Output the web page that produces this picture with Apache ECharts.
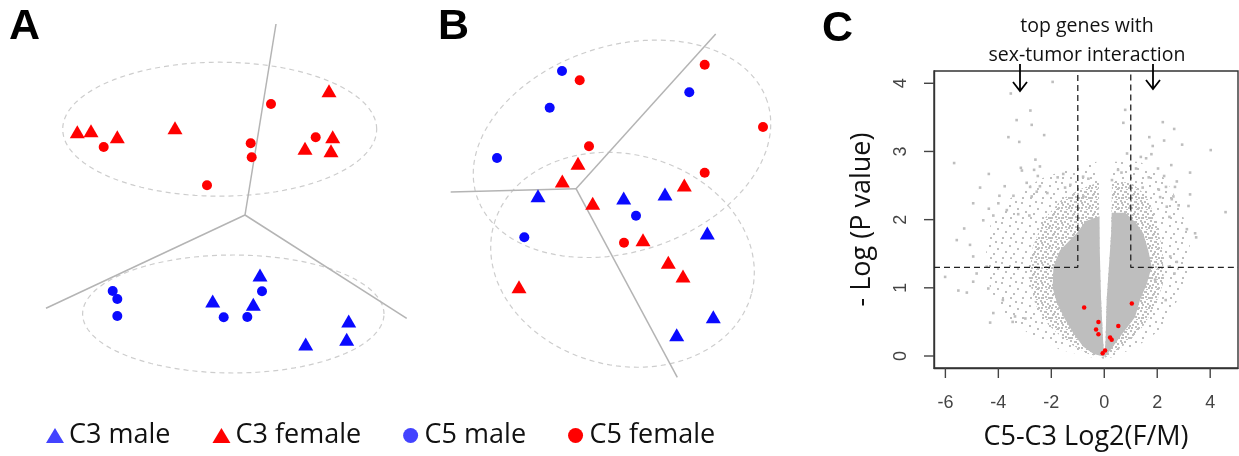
<!DOCTYPE html>
<html>
<head>
<meta charset="utf-8">
<title>C3 / C5 sex clustering and volcano plot</title>
<script src="https://cdn.jsdelivr.net/npm/echarts@6.0.0/dist/echarts.min.js"></script>
<style>
  html, body { margin: 0; padding: 0; background: #fff; }
  #main { width: 1239px; height: 456px; }
</style>
</head>
<body>
<div id="main"></div>
<script>
// ---- panel A (projection, arbitrary units) ----
var aC3Male   = [[26.00,10.50],[21.27,7.90],[25.33,7.57],[34.87,5.90],[34.67,4.07],[30.57,3.60]];
var aC3Female = [[7.73,24.83],[9.10,24.93],[11.73,24.33],[17.50,25.23],[32.90,28.93],[33.27,24.33],[30.50,23.17],[33.10,22.93]];
var aC5Male   = [[11.27,8.90],[11.73,8.10],[11.73,6.40],[26.20,8.87],[22.37,6.27],[24.73,6.30]];
var aC5Female = [[10.37,23.30],[27.10,27.60],[25.07,23.67],[25.17,22.27],[31.57,24.27],[20.70,19.47]];
// ellipse: centre x, centre y, semi-axis a, semi-axis b, tilt (deg)
var aEllipses = [[21.97,25.08,15.7,6.7,0],[23.33,6.60,15.07,5.9,0]];
var aHub = [24.5,16.5];
var aSpokes = [[27.6,35.6],[4.6,7.17],[40.67,6.17]];

// ---- panel B ----
var bC3Male   = [[11.80,19.43],[20.37,19.20],[24.50,19.60],[28.73,15.70],[29.33,7.33],[25.67,5.53]];
var bC3Female = [[15.80,22.67],[14.23,20.90],[17.27,18.67],[26.43,20.50],[22.30,15.03],[24.83,12.77],[26.30,11.40],[9.90,10.33]];
var bC5Male   = [[14.20,31.90],[12.97,28.23],[7.70,23.20],[26.93,29.77],[21.60,17.43],[10.43,15.27]];
var bC5Female = [[15.97,30.97],[28.47,32.53],[34.30,26.30],[16.90,24.37],[28.47,21.73],[20.40,14.73]];
var bEllipses = [[20.20,24.12,15.28,10.3,18],[20.25,13.02,13.34,10.55,-14.5]];
var bHub = [15.6,20.13];
var bSpokes = [[29.57,35.6],[3.07,19.8],[25.73,1.27]];

// ---- panel C (volcano) ----
var xTicks = [-6,-4,-2,0,2,4];
var yTicks = [0,1,2,3,4];
var fcCut = 1;
var pCut = 1.301;
// dense gene cloud outlines (log2 ratio, -log10 p)
var coreLeft = [[-0.18,2.05],[-0.7,1.98],[-1.04,1.80],[-1.67,1.55],[-1.92,1.31],[-1.95,1.0],[-1.79,0.78],[-1.5,0.55],[-1.18,0.34],[-0.8,0.14],[-0.4,0.03],[0,-0.01],[-0.05,0.26],[-0.12,0.82],[-0.17,1.55]];
var coreRight = [[0.28,2.1],[0.8,2.1],[1.2,1.95],[1.47,1.80],[1.66,1.55],[1.79,1.31],[1.61,1.06],[1.35,0.82],[1.16,0.57],[0.71,0.34],[0.33,0.14],[0.1,0.02],[0,-0.01],[0.05,0.23],[0.09,0.82],[0.26,1.80]];
var midLeft = [[-0.2,2.55],[-0.9,2.45],[-1.6,2.3],[-2.3,2.0],[-2.7,1.6],[-2.85,1.15],[-2.6,0.75],[-2.1,0.45],[-1.4,0.2],[-0.6,0.03],[0,-0.03],[-0.05,0.26],[-0.12,0.82],[-0.19,1.8]];
var midRight = [[0.29,2.55],[1.0,2.55],[1.6,2.35],[1.95,2.0],[2.2,1.55],[2.25,1.1],[1.95,0.75],[1.5,0.45],[0.9,0.2],[0.3,0.03],[0,-0.03],[0.05,0.23],[0.09,0.82],[0.26,1.8]];
var outerLeft = [[-0.3,2.85],[-1.3,2.75],[-2.4,2.6],[-3.6,2.3],[-4.3,1.92],[-4.5,1.41],[-4.3,0.97],[-3.75,0.6],[-2.8,0.31],[-1.67,0.09],[-0.5,-0.02],[0,-0.04],[-0.05,0.26],[-0.12,0.82],[-0.2,2.0]];
var outerRight = [[0.33,2.85],[1.35,2.85],[2.3,2.6],[2.86,2.21],[3.24,1.7],[3.17,1.19],[2.68,0.75],[2.11,0.38],[1.17,0.12],[0.3,-0.02],[0,-0.04],[0.05,0.23],[0.09,0.82],[0.29,2.0]];
// scattered genes outside the cloud
var sparseGenes = [
  [-1.95,4.02],[-3.53,3.85],[-2.79,3.60],[-3.31,3.46],[-2.74,3.39],[-3.62,3.21],[-3.21,3.14],[-2.27,3.24],
  [-5.67,2.83],[-4.36,2.67],[-2.60,2.88],[-2.43,2.78],[-3.15,2.76],[-3.11,2.72],[-2.65,2.73],[-2.51,2.64],
  [-4.69,2.47],[-3.76,2.49],[-2.93,2.54],[-2.80,2.48],[-2.43,2.49],[-1.76,2.62],[-1.55,2.67],[-1.48,2.47],
  [-1.28,2.51],[-4.95,2.24],[-3.96,2.35],[-3.43,2.35],[-4.00,2.24],[-2.74,2.34],[-2.55,2.41],[-2.15,2.39],
  [-4.36,2.16],[-3.68,2.14],[-3.25,2.08],[-2.83,2.06],[-4.19,2.06],
  [0.79,3.61],[0.72,3.42],[2.21,3.43],[2.64,3.33],[1.70,3.21],[2.26,3.16],[1.83,3.08],[2.94,3.10],
  [4.02,3.02],[1.38,2.92],[1.58,2.90],[1.78,2.96],[0.86,2.97],[2.53,2.80],[2.03,2.75],[1.20,2.75],
  [3.24,2.69],[2.26,2.64],[1.68,2.62],[2.74,2.56],[0.65,2.69],[1.45,2.47],[2.33,2.48],[2.06,2.44],
  [3.24,2.37],[2.61,2.34],[2.11,2.33],[4.58,2.11],[2.81,2.21],[3.18,2.20],[2.36,2.19],
  [-6.01,1.16],[-5.51,0.96],[-5.19,0.93],[-5.57,1.70],[-5.29,1.87],[-4.31,0.49],[-4.19,0.63],[-4.38,0.99],
  [-4.95,1.46],[-5.07,1.63],[-4.57,1.99],[-3.37,0.58],[-3.46,0.50],[-2.98,0.55],[-3.83,0.82],[-4.95,1.09],
  [-4.82,1.21],[-4.44,1.31],
  [3.47,1.74],[3.12,1.86],[3.43,1.80],[2.55,2.30],[2.67,2.48],[2.46,2.04],[2.32,0.82],[1.92,1.12],
  [2.65,1.21],[2.49,1.46],[2.44,1.31],[2.74,1.38],
  [-0.80,2.63],[-0.60,2.60],[-0.79,2.34],[0.29,2.58],[0.52,2.73]
];
// highlighted genes with sex-tumor interaction
var redGenes = [[-0.76,0.71],[1.04,0.77],[-0.22,0.50],[-0.31,0.39],[-0.22,0.32],[0.53,0.44],[0.22,0.27],[0.28,0.24],[0.03,0.08],[-0.06,0.04]];

var xLim = [-6.43, 5.05];
var yLim = [-0.176, 4.18];

var BLUE = '#0a0aff', RED = '#ff0000', GREY = '#bebebe';

// speckle textures for the thinner parts of the cloud
function dotTile(size, dots) {
  var c = document.createElement('canvas');
  c.width = c.height = size;
  var g = c.getContext('2d');
  g.fillStyle = GREY;
  dots.forEach(function (d) { g.fillRect(d[0], d[1], 2, 2); });
  return { image: c, repeat: 'repeat' };
}
var sparseFill = dotTile(20, [[1,2],[9,5],[15,1],[5,11],[13,13],[17,8],[2,17],[10,17]]);
var denseFill = dotTile(10, [[0,0],[4,1],[7,3],[2,4],[5,6],[8,7],[1,7],[6,9]]);

function ellipseItem(params, api) {
  var c = api.coord([api.value(0), api.value(1)]);
  var r = api.size([api.value(2), api.value(3)]);
  var t = api.value(4) * Math.PI / 180;
  var pts = [];
  for (var i = 0; i < 120; i++) {
    var u = i / 120 * 2 * Math.PI;
    var ex = r[0] * Math.cos(u), ey = r[1] * Math.sin(u);
    pts.push([c[0] + ex * Math.cos(t) - ey * Math.sin(t), c[1] - (ex * Math.sin(t) + ey * Math.cos(t))]);
  }
  return { type: 'polygon', shape: { points: pts },
           style: { fill: 'none', stroke: '#cdcdcd', lineWidth: 1.2, lineDash: [5, 4] } };
}

function areaItem(polys, fill) {
  return function (params, api) {
    return { type: 'polygon',
             shape: { points: polys[params.dataIndex].map(function (p) { return api.coord(p); }) },
             style: { fill: fill } };
  };
}

function panelSeries(idx, hub, spokes, ells, c3m, c3f, c5m, c5f) {
  return [
    { type: 'custom', xAxisIndex: idx, yAxisIndex: idx, renderItem: ellipseItem,
      encode: { x: 0, y: 1 }, data: ells, silent: true },
    { type: 'lines', coordinateSystem: 'cartesian2d', xAxisIndex: idx, yAxisIndex: idx, silent: true,
      lineStyle: { color: '#b4b4b4', width: 1.5, opacity: 1 },
      data: spokes.map(function (e) { return { coords: [hub, e] }; }) },
    { name: 'C3 male', type: 'scatter', xAxisIndex: idx, yAxisIndex: idx, symbol: 'triangle',
      symbolSize: [15, 13], itemStyle: { color: BLUE, opacity: 1 }, data: c3m },
    { name: 'C3 female', type: 'scatter', xAxisIndex: idx, yAxisIndex: idx, symbol: 'triangle',
      symbolSize: [15, 13], itemStyle: { color: RED, opacity: 1 }, data: c3f },
    { name: 'C5 male', type: 'scatter', xAxisIndex: idx, yAxisIndex: idx, symbol: 'circle',
      symbolSize: 10, itemStyle: { color: BLUE, opacity: 1 }, data: c5m },
    { name: 'C5 female', type: 'scatter', xAxisIndex: idx, yAxisIndex: idx, symbol: 'circle',
      symbolSize: 10, itemStyle: { color: RED, opacity: 1 }, data: c5f }
  ];
}

var chart = echarts.init(document.getElementById('main'));

var labelFont = { fontFamily: 'Liberation Sans', fontSize: 18, color: '#444' };
var frameLine = { show: true, onZero: false, lineStyle: { color: '#333', width: 1.4 } };

var series = []
  .concat(panelSeries(0, aHub, aSpokes, aEllipses, aC3Male, aC3Female, aC5Male, aC5Female))
  .concat(panelSeries(1, bHub, bSpokes, bEllipses, bC3Male, bC3Female, bC5Male, bC5Female))
  .concat([
    { type: 'custom', xAxisIndex: 2, yAxisIndex: 2, silent: true, clip: true,
      renderItem: areaItem([outerLeft, outerRight], sparseFill),
      data: [outerLeft[0], outerRight[0]] },
    { type: 'custom', xAxisIndex: 2, yAxisIndex: 2, silent: true, clip: true,
      renderItem: areaItem([midLeft, midRight], denseFill),
      data: [midLeft[0], midRight[0]] },
    { type: 'custom', xAxisIndex: 2, yAxisIndex: 2, silent: true, clip: true,
      renderItem: areaItem([coreLeft, coreRight], GREY),
      data: [coreLeft[0], coreRight[0]] },
    { type: 'scatter', xAxisIndex: 2, yAxisIndex: 2, symbol: 'rect', symbolSize: 2.6, silent: true,
      itemStyle: { color: GREY, opacity: 1 }, data: sparseGenes },
    { type: 'scatter', xAxisIndex: 2, yAxisIndex: 2, symbolSize: 4.5, silent: true,
      itemStyle: { color: RED, opacity: 1 }, data: redGenes },
    { type: 'line', xAxisIndex: 2, yAxisIndex: 2, symbol: 'none', silent: true,
      lineStyle: { color: '#222', width: 1.3, type: [6, 4] },
      data: [[xLim[0], pCut], [-fcCut, pCut], [-fcCut, yLim[1] - 0.05]] },
    { type: 'line', xAxisIndex: 2, yAxisIndex: 2, symbol: 'none', silent: true,
      lineStyle: { color: '#222', width: 1.3, type: [6, 4] },
      data: [[fcCut, yLim[1] - 0.05], [fcCut, pCut], [xLim[1], pCut]] }
  ]);

var option = {
  animation: false,
  backgroundColor: '#fff',
  grid: [
    { left: 0, top: 0, width: 420, height: 380, outerBoundsMode: 'none' },
    { left: 420, top: 0, width: 400, height: 390, outerBoundsMode: 'none' },
    { left: 934, top: 71, width: 304, height: 297, outerBoundsMode: 'none',
      show: true, borderColor: '#333', borderWidth: 1.4, backgroundColor: 'transparent' }
  ],
  xAxis: [
    { gridIndex: 0, type: 'value', min: 0, max: 42, show: false },
    { gridIndex: 1, type: 'value', min: 0, max: 40, show: false },
    { gridIndex: 2, type: 'value', min: xLim[0], max: xLim[1], position: 'bottom',
      axisLine: frameLine, splitLine: { show: false }, axisTick: { show: false },
      axisLabel: Object.assign({ customValues: xTicks, margin: 26 }, labelFont),
      name: 'C5-C3 Log2(F/M)', nameLocation: 'middle', nameGap: 56, nameMoveOverlap: false,
      nameTextStyle: { fontFamily: 'Open Sans', fontSize: 27, color: '#111' } }
  ],
  yAxis: [
    { gridIndex: 0, type: 'value', min: 0, max: 38, show: false },
    { gridIndex: 1, type: 'value', min: 0, max: 39, show: false },
    { gridIndex: 2, type: 'value', min: yLim[0], max: yLim[1], position: 'left',
      axisLine: frameLine, splitLine: { show: false }, axisTick: { show: false },
      axisLabel: Object.assign({ customValues: yTicks, margin: 24, rotate: 90 }, labelFont),
      name: '- Log (P value)', nameLocation: 'middle', nameGap: 58, nameRotate: 90, nameMoveOverlap: false,
      nameTextStyle: { fontFamily: 'Open Sans', fontSize: 27, color: '#111' } }
  ],
  legend: {
    left: 46, top: 422, padding: 0, itemGap: 42, itemWidth: 18, itemHeight: 15,
    selectedMode: false,
    textStyle: { fontFamily: 'Open Sans', fontSize: 27, color: '#111' },
    data: [
      { name: 'C3 male', icon: 'triangle', itemStyle: { color: '#4343ff' } },
      { name: 'C3 female', icon: 'triangle', itemStyle: { color: RED } },
      { name: 'C5 male', icon: 'circle', itemStyle: { color: '#4343ff' } },
      { name: 'C5 female', icon: 'circle', itemStyle: { color: RED } }
    ]
  },
  graphic: [
    { type: 'text', left: 9, top: 6, style: { text: 'A', font: 'bold 43px "Liberation Sans"', fill: '#000' } },
    { type: 'text', left: 438, top: 6, style: { text: 'B', font: 'bold 43px "Liberation Sans"', fill: '#000' } },
    { type: 'text', left: 822, top: 8, style: { text: 'C', font: 'bold 43px "Liberation Sans"', fill: '#000' } },
    { type: 'text', x: 1087, y: 12,
      style: { text: 'top genes with\nsex-tumor interaction', font: '19.5px "Open Sans"', fill: '#111',
               textAlign: 'center', lineHeight: 29 } },
    { type: 'polyline', shape: { points: [[1020, 64], [1020, 91]] }, style: { stroke: '#000', lineWidth: 1.8, fill: null } },
    { type: 'polyline', shape: { points: [[1013, 82], [1020, 91], [1027, 82]] }, style: { stroke: '#000', lineWidth: 1.8, fill: null } },
    { type: 'polyline', shape: { points: [[1153, 64], [1153, 89]] }, style: { stroke: '#000', lineWidth: 1.8, fill: null } },
    { type: 'polyline', shape: { points: [[1146, 80], [1153, 89], [1160, 80]] }, style: { stroke: '#000', lineWidth: 1.8, fill: null } }
  ],
  series: series
};

chart.setOption(option);

// R style outward tick marks, placed with the chart's own scale of panel C
var tickMarks = [];
xTicks.forEach(function (v) {
  var p = chart.convertToPixel({ gridIndex: 2 }, [v, yLim[0]]);
  tickMarks.push({ type: 'polyline', z: 50, silent: true,
                   shape: { points: [[p[0], p[1]], [p[0], p[1] + 10]] },
                   style: { stroke: '#444', lineWidth: 1.4, fill: null } });
});
yTicks.forEach(function (v) {
  var p = chart.convertToPixel({ gridIndex: 2 }, [xLim[0], v]);
  tickMarks.push({ type: 'polyline', z: 50, silent: true,
                   shape: { points: [[p[0], p[1]], [p[0] - 10, p[1]]] },
                   style: { stroke: '#444', lineWidth: 1.4, fill: null } });
});
chart.setOption({ graphic: option.graphic.concat(tickMarks) });
</script>
</body>
</html>
